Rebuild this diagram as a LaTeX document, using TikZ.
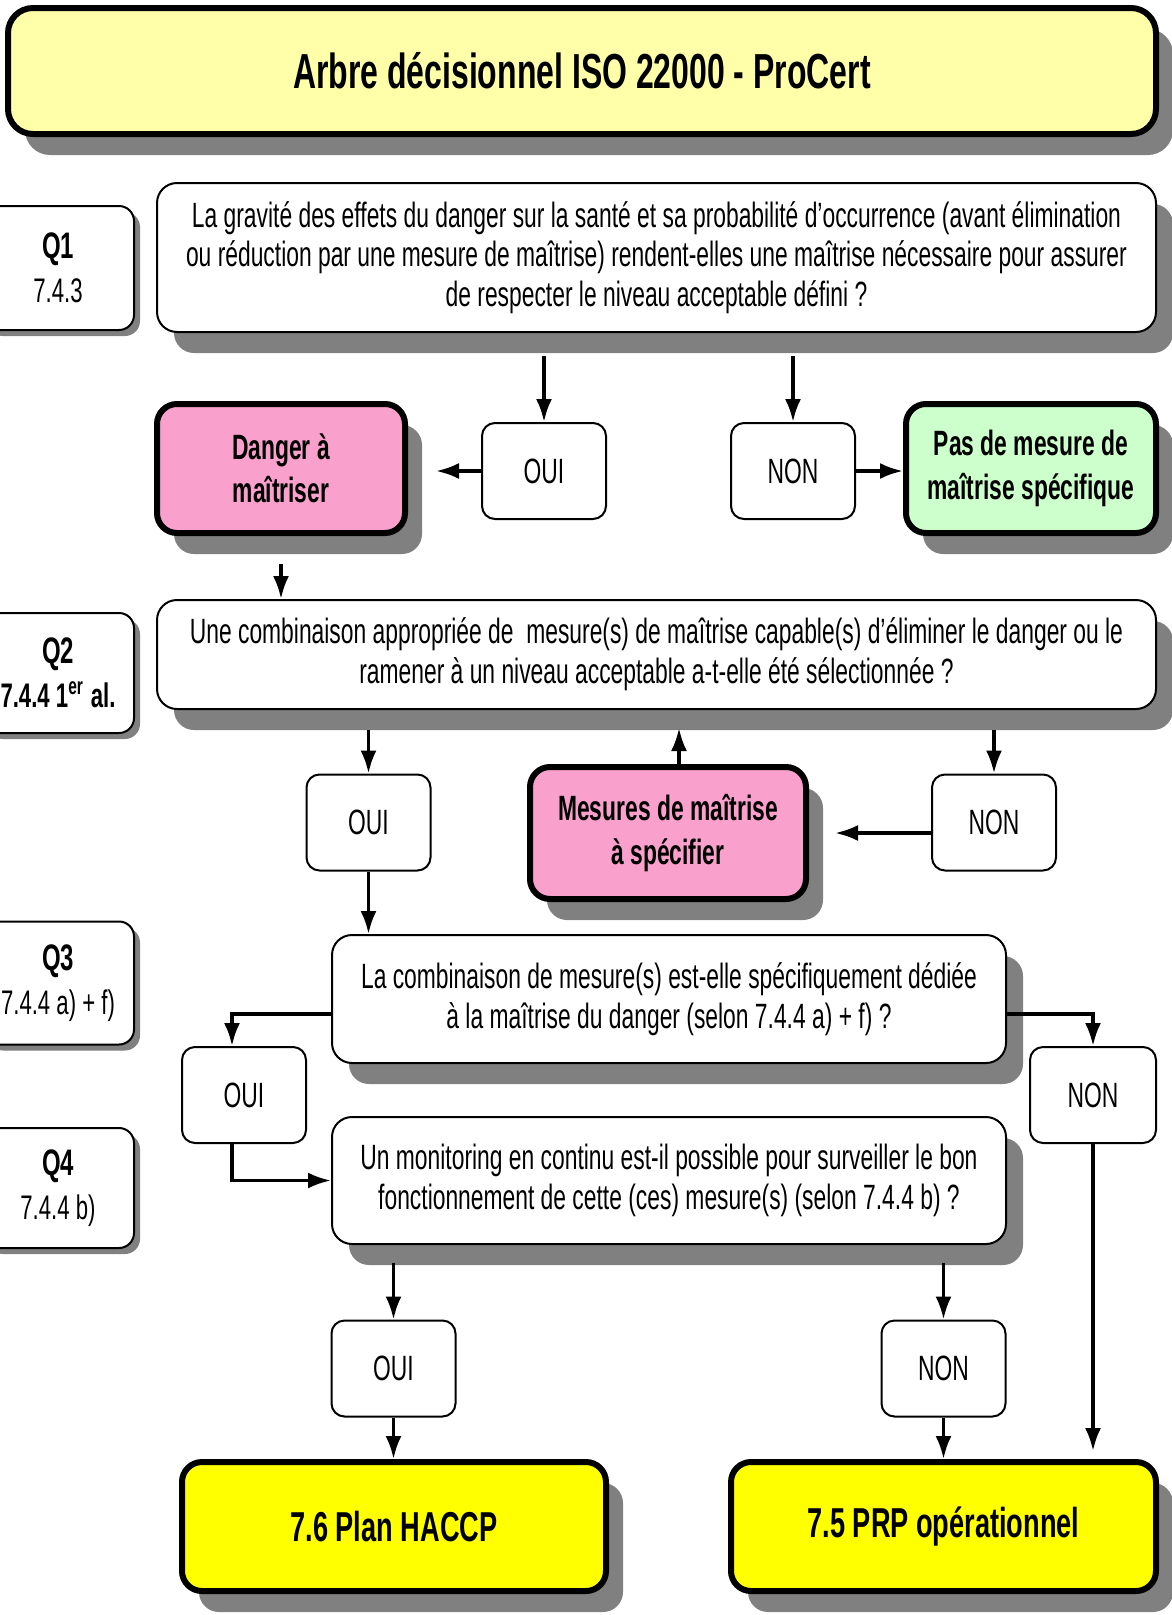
\documentclass[tikz,border=0pt]{standalone}
\usepackage{fontspec}
\setmainfont[FakeStretch=0.65]{Liberation Sans}
\usepackage{xcolor}
\usetikzlibrary{arrows.meta,shadows}
\definecolor{titlefill}{RGB}{255,255,170}
\definecolor{pinkfill}{RGB}{250,160,205}
\definecolor{greenfill}{RGB}{204,255,204}
\definecolor{finalfill}{RGB}{255,255,0}
\definecolor{shade}{RGB}{128,128,128}

\begin{document}
\begin{tikzpicture}[x=0.1mm,y=-0.1mm,>={Latex[length=2.3mm,width=1.6mm]},
  shd/.style={drop shadow={shadow xshift=1.7mm,shadow yshift=-2.1mm,fill=shade,opacity=1}},
  qbox/.style={draw,line width=0.2mm,rounded corners=2mm,fill=white,shd,align=center,inner sep=0pt,font=\fontsize{10}{11.3}\selectfont},
  lbl/.style={draw,line width=0.2mm,rounded corners=1.5mm,fill=white,align=center,inner sep=0pt,minimum width=15.2mm,
    font=\fontsize{9.7}{12.5}\selectfont,drop shadow={shadow xshift=0.6mm,shadow yshift=-0.6mm,fill=shade,opacity=1}},
  ans/.style={draw,line width=0.2mm,rounded corners=1.3mm,fill=white,minimum width=12.4mm,minimum height=9.6mm,inner sep=0pt,font=\fontsize{10}{12}\selectfont},
  res/.style={draw,line width=0.6mm,rounded corners=2mm,shd,align=center,inner sep=0pt,font=\fontsize{10}{12.3}\selectfont\bfseries},
  fin/.style={res,fill=finalfill,minimum width=42.4mm,minimum height=12.9mm,font=\fontsize{11.9}{14}\selectfont\bfseries},
  arr/.style={->,line width=0.35mm}]
\useasboundingbox (0,0) rectangle (1172,1615);
\clip (0,0) rectangle (1172,1615);
% titre
\node[res,fill=titlefill,minimum width=114.8mm,minimum height=12.6mm,rounded corners=2.5mm,
  font=\fontsize{14}{16}\selectfont\bfseries] (titre) at (582,71) {Arbre décisionnel ISO 22000 - ProCert};
% Q1
\node[lbl,minimum height=12.4mm] (l1) at (58,268) {{\fontsize{10.5}{12.5}\selectfont\bfseries Q1}\\7.4.3};
\node[qbox,minimum width=99.9mm,minimum height=14.9mm] (q1) at (656.5,257.5)
  {La gravité des effets du danger sur la santé et sa probabilité d'occurrence (avant élimination\\
   ou réduction par une mesure de maîtrise) rendent-elles une maîtrise nécessaire pour assurer\\
   de respecter le niveau acceptable défini ?};
\node[ans] (oui1) at (544,471) {OUI};
\node[ans] (non1) at (793,471) {NON};
\node[res,fill=pinkfill,minimum width=24.8mm,minimum height=12.9mm] (danger) at (281,468.5) {Danger à\\maîtriser};
\node[res,fill=greenfill,minimum width=25mm,minimum height=12.9mm] (pas) at (1031,468.5) {Pas de mesure de\\maîtrise spécifique};
% Q2
\node[lbl,minimum height=12mm] (l2) at (58,673) {{\fontsize{10.5}{12.5}\selectfont\bfseries Q2}\\\textbf{7.4.4 1\textsuperscript{er} al.}};
\node[qbox,minimum width=99.9mm,minimum height=10.9mm] (q2) at (656.5,654.5)
  {Une combinaison appropriée de\ \ mesure(s) de maîtrise capable(s) d'éliminer le danger ou le\\
   ramener à un niveau acceptable a-t-elle été sélectionnée ?};
\node[ans] (oui2) at (368.5,822.5) {OUI};
\node[res,fill=pinkfill,minimum width=27.6mm,minimum height=13.2mm] (mesures) at (668,833) {Mesures de maîtrise\\à spécifier};
\node[ans] (non2) at (994,822.5) {NON};
% Q3
\node[lbl,minimum height=12.3mm] (l3) at (58,983) {{\fontsize{10.5}{12.5}\selectfont\bfseries Q3}\\7.4.4 a) + f)};
\node[qbox,minimum width=67.4mm,minimum height=12.8mm] (q3) at (669,999)
  {La combinaison de mesure(s) est-elle spécifiquement dédiée\\
   à la maîtrise du danger (selon 7.4.4 a) + f) ?};
\node[ans] (oui3) at (244,1095) {OUI};
\node[ans,minimum width=12.6mm] (non3) at (1093,1095) {NON};
% Q4
\node[lbl,minimum height=12mm] (l4) at (58,1188) {{\fontsize{10.5}{12.5}\selectfont\bfseries Q4}\\7.4.4 b)};
\node[qbox,minimum width=67.4mm,minimum height=12.7mm] (q4) at (669,1180.5)
  {Un monitoring en continu est-il possible pour surveiller le bon\\
   fonctionnement de cette (ces) mesure(s) (selon 7.4.4 b) ?};
\node[ans] (oui4) at (393.5,1368.5) {OUI};
\node[ans] (non4) at (943.5,1368.5) {NON};
% conclusions
\node[fin] (haccp) at (394,1526.5) {7.6 Plan HACCP};
\node[fin,minimum width=42.5mm] (prp) at (943.5,1526.5) {7.5 PRP opérationnel};
% fleches
\draw[arr,shorten <=2.3mm] (oui1.north |- q1.south) -- (oui1.north);
\draw[arr,shorten <=2.3mm] (non1.north |- q1.south) -- (non1.north);
\draw[arr,shorten >=2.8mm] (oui1.west) -- (oui1.west -| danger.east);
\draw[arr] (non1.east) -- (non1.east -| pas.west);
\draw[arr,shorten <=2.8mm] (danger.south) -- (danger.south |- q2.north);
\draw[arr,shorten <=2mm] (oui2.north |- q2.south) -- (oui2.north);
\draw[arr,shorten <=2mm] (non2.north |- q2.south) -- (non2.north);
\draw[arr,shorten >=1.8mm] ([xshift=1.1mm]mesures.north) -- ([xshift=1.1mm]mesures.north |- q2.south);
\draw[arr,shorten >=2.6mm] (non2.west |- mesures.east) -- (mesures.east);
\draw[arr] (oui2.south) -- (oui2.south |- q3.north);
\draw[arr] ([yshift=-1.5mm]q3.west) -| ([xshift=-1.2mm]oui3.north);
\draw[arr] ([yshift=-1.5mm]q3.east) -| (non3.north);
\draw[arr] ([xshift=-1.2mm]oui3.south) |- (q4.west);
\draw[arr,shorten <=1.8mm] (oui4.north |- q4.south) -- (oui4.north);
\draw[arr,shorten <=1.8mm] (non4.north |- q4.south) -- (non4.north);
\draw[arr,shorten >=0.8mm] (non3.south) -- (non3.south |- prp.north);
\draw[arr] (oui4.south) -- (oui4.south |- haccp.north);
\draw[arr] (non4.south) -- (non4.south |- prp.north);
\end{tikzpicture}
\end{document}
